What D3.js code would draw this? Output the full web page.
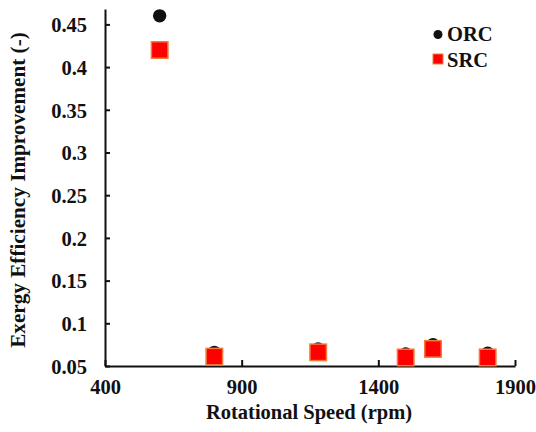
<!DOCTYPE html>
<html><head><meta charset="utf-8">
<script src="https://cdn.jsdelivr.net/npm/d3@7"></script>
<style>body{margin:0;background:#fff}svg{display:block}text{font-family:"Liberation Serif","Times New Roman",serif;font-weight:bold;fill:#111}</style>
</head><body>
<script>
const rpm = [600, 800, 1180, 1500, 1600, 1800];
const orc = [0.46, 0.066, 0.070, 0.064, 0.075, 0.065];
const src = [0.42, 0.061, 0.066, 0.060, 0.070, 0.060];
const xTicks = [400, 900, 1400, 1900];
const yTicks = [0.05, 0.1, 0.15, 0.2, 0.25, 0.3, 0.35, 0.4, 0.45];
const yTickLabels = ["0.05","0.1","0.15","0.2","0.25","0.3","0.35","0.4","0.45"];
const seriesNames = ["ORC", "SRC"];

const W = 536, H = 432;
const svg = d3.select("body").append("svg").attr("width", W).attr("height", H);
const x = d3.scaleLinear().domain([400, 1900]).range([105, 515]);
const y = d3.scaleLinear().domain([0.05, 0.468]).range([366, 9]);

const fs = 20.5;
// axes
const xAxis = d3.axisBottom(x).tickValues(xTicks).tickSizeInner(-6).tickSizeOuter(0).tickPadding(13).tickFormat(d3.format("d"));
const gx = svg.append("g").attr("transform", `translate(0,${y(0.05)})`).call(xAxis);
const yAxis = d3.axisLeft(y).tickValues(yTicks).tickSizeInner(-5).tickSizeOuter(0).tickPadding(18).tickFormat((d, i) => yTickLabels[i]);
const gy = svg.append("g").attr("transform", `translate(${x(400)},0)`).call(yAxis);
[gx, gy].forEach(g => {
  g.select(".domain").attr("stroke", "#111").attr("stroke-width", 2);
  g.selectAll(".tick line").attr("stroke", "#111").attr("stroke-width", 2);
  g.selectAll(".tick text").style("font-size", fs + "px").style("font-family", "Liberation Serif").style("font-weight", "bold").attr("fill", "#111");
});
gy.selectAll(".tick text").attr("dy", "0.36em");

// titles
svg.append("text").attr("x", 309).attr("y", 419).attr("text-anchor", "middle").style("font-size", fs + "px").text("Rotational Speed (rpm)");
svg.append("text").attr("transform", "translate(25,190) rotate(-90)").attr("text-anchor", "middle").style("font-size", "21.2px").text("Exergy Efficiency Improvement (-)");

// ORC points (circles)
svg.append("g").selectAll("circle").data(rpm).join("circle")
  .attr("cx", d => x(d)).attr("cy", (d, i) => y(orc[i])).attr("r", 6.7).attr("fill", "#111");
// SRC points (squares)
const s = 16.5;
svg.append("g").selectAll("rect").data(rpm).join("rect")
  .attr("x", d => x(d) - s / 2).attr("y", (d, i) => y(src[i]) - s / 2)
  .attr("width", s).attr("height", s).attr("fill", "#ff0000").attr("stroke", "#f47a3c").attr("stroke-width", 1.5);

// legend
const lg = svg.append("g");
lg.append("circle").attr("cx", 438).attr("cy", 34.5).attr("r", 4.5).attr("fill", "#111");
lg.append("rect").attr("x", 433).attr("y", 54).attr("width", 10).attr("height", 10).attr("fill", "#ff0000").attr("stroke", "#f47a3c").attr("stroke-width", 1);
lg.append("text").attr("x", 447).attr("y", 41).style("font-size", fs + "px").text(seriesNames[0]);
lg.append("text").attr("x", 447).attr("y", 67).style("font-size", fs + "px").text(seriesNames[1]);
</script>
</body></html>
